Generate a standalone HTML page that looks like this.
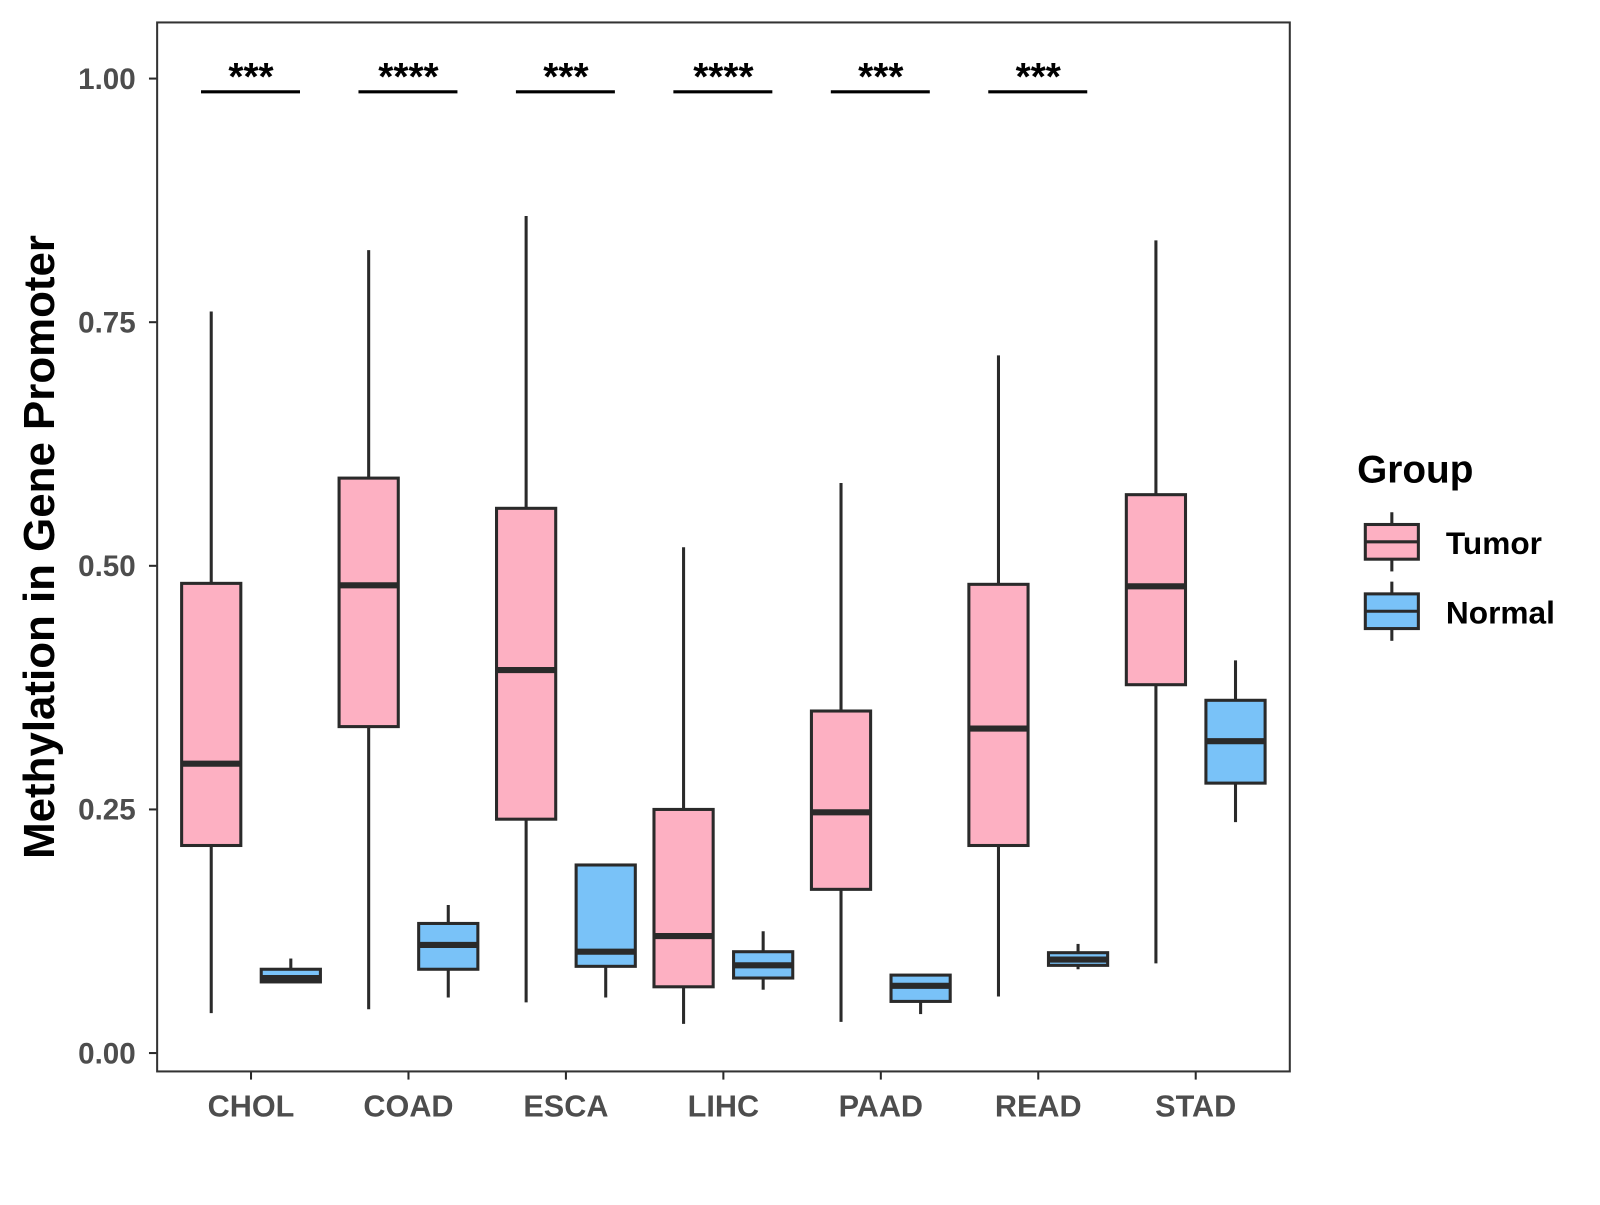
<!DOCTYPE html>
<html><head><meta charset="utf-8"><style>
body{margin:0;background:#fff;}
svg text{font-family:"Liberation Sans",sans-serif;font-weight:bold;}
</style></head><body>
<svg id="chart" width="1600" height="1200" viewBox="0 0 1568 1176" xmlns="http://www.w3.org/2000/svg">
<rect x="0" y="0" width="1568" height="1176" fill="#fff"/>
<g id="plot"></g>
<rect x="154" y="22" width="1110" height="1028" fill="none" stroke="#333" stroke-width="2"/>
<text transform="translate(53,536) rotate(-90)" text-anchor="middle" font-size="43" fill="#000">Methylation in Gene Promoter</text>
<g>
<text x="1330" y="473" font-size="38" fill="#000">Group</text>
<g>
<line x1="1364" y1="502" x2="1364" y2="560" stroke="#2a2a2a" stroke-width="3"/>
<rect x="1338" y="514" width="52" height="34" fill="#fdb0c2" stroke="#2a2a2a" stroke-width="3"/>
<line x1="1338" y1="531" x2="1390" y2="531" stroke="#2a2a2a" stroke-width="3"/>
<text x="1417" y="543" font-size="31" fill="#000">Tumor</text></g>
<g>
<line x1="1364" y1="570" x2="1364" y2="628" stroke="#2a2a2a" stroke-width="3"/>
<rect x="1338" y="582" width="52" height="34" fill="#79c2f8" stroke="#2a2a2a" stroke-width="3"/>
<line x1="1338" y1="599" x2="1390" y2="599" stroke="#2a2a2a" stroke-width="3"/>
<text x="1417" y="611" font-size="31" fill="#000">Normal</text></g>
</g>
</svg>
<script>
const categories=["CHOL","COAD","ESCA","LIHC","PAAD","READ","STAD"];
const tumorMin=[0.041,0.045,0.052,0.030,0.032,0.058,0.092];
const tumorQ1=[0.213,0.335,0.240,0.068,0.168,0.213,0.378];
const tumorMed=[0.297,0.480,0.393,0.120,0.247,0.333,0.479];
const tumorQ3=[0.482,0.590,0.559,0.250,0.351,0.481,0.573];
const tumorMax=[0.761,0.824,0.859,0.519,0.585,0.716,0.834];
const normalMin=[0.073,0.057,0.057,0.065,0.040,0.086,0.237];
const normalQ1=[0.073,0.086,0.089,0.077,0.053,0.090,0.277];
const normalMed=[0.077,0.111,0.104,0.090,0.069,0.096,0.320];
const normalQ3=[0.086,0.133,0.193,0.104,0.080,0.103,0.362];
const normalMax=[0.097,0.152,0.193,0.125,0.080,0.112,0.403];
const yTicks=[0,0.25,0.5,0.75,1.0];
const yTickLabels=["0.00","0.25","0.50","0.75","1.00"];
const sigLabels=["***","****","***","****","***","***",""];

const NS="http://www.w3.org/2000/svg";
const g=document.getElementById('plot');
function y(v){return 1032-v*955;}
function x(i){return 246+i*154.3;}
function mk(tag,attrs,parent){const e=document.createElementNS(NS,tag);for(const k in attrs)e.setAttribute(k,attrs[k]);(parent||g).appendChild(e);return e;}
const ink="#2a2a2a";
yTicks.forEach((t,i)=>{
  const l=mk('line',{x1:146,x2:154,y1:y(t),y2:y(t),stroke:ink,'stroke-width':2});
  
  
  const tx=mk('text',{x:133,y:y(t)+10,'text-anchor':'end','font-size':29,fill:'#4d4d4d'});
  tx.textContent=yTickLabels[i];
  
  
});
categories.forEach((c,i)=>{
  const l=mk('line',{x1:x(i),x2:x(i),y1:1050,y2:1058,stroke:ink,'stroke-width':2});
  
  
  const tx=mk('text',{x:x(i),y:1094,'text-anchor':'middle','font-size':30,fill:'#4d4d4d'});
  tx.textContent=c;
  
  
});
function box(cx,mn,q1,md,q3,mx,fill,name){
  const gg=mk('g',{});
  
  
  mk('line',{x1:cx,x2:cx,y1:y(mx),y2:y(mn),stroke:ink,'stroke-width':3},gg);
  mk('rect',{x:cx-29,y:y(q3),width:58,height:Math.max(y(q1)-y(q3),1),fill:fill,stroke:ink,'stroke-width':3},gg);
  mk('line',{x1:cx-29,x2:cx+29,y1:y(md),y2:y(md),stroke:ink,'stroke-width':6},gg);
}
categories.forEach((c,i)=>{
  box(x(i)-39,tumorMin[i],tumorQ1[i],tumorMed[i],tumorQ3[i],tumorMax[i],'#fdb0c2','box-tumor-'+c.toLowerCase());
  box(x(i)+39,normalMin[i],normalQ1[i],normalMed[i],normalQ3[i],normalMax[i],'#79c2f8','box-normal-'+c.toLowerCase());
  if(sigLabels[i]){
    const l=mk('line',{x1:x(i)-49,x2:x(i)+48,y1:90,y2:90,stroke:'#000','stroke-width':3});
    
    
    const t=mk('text',{x:x(i),y:88,'text-anchor':'middle','font-size':38,fill:'#000'});
    t.textContent=sigLabels[i];
    
    
  }
});
</script>
</body></html>
